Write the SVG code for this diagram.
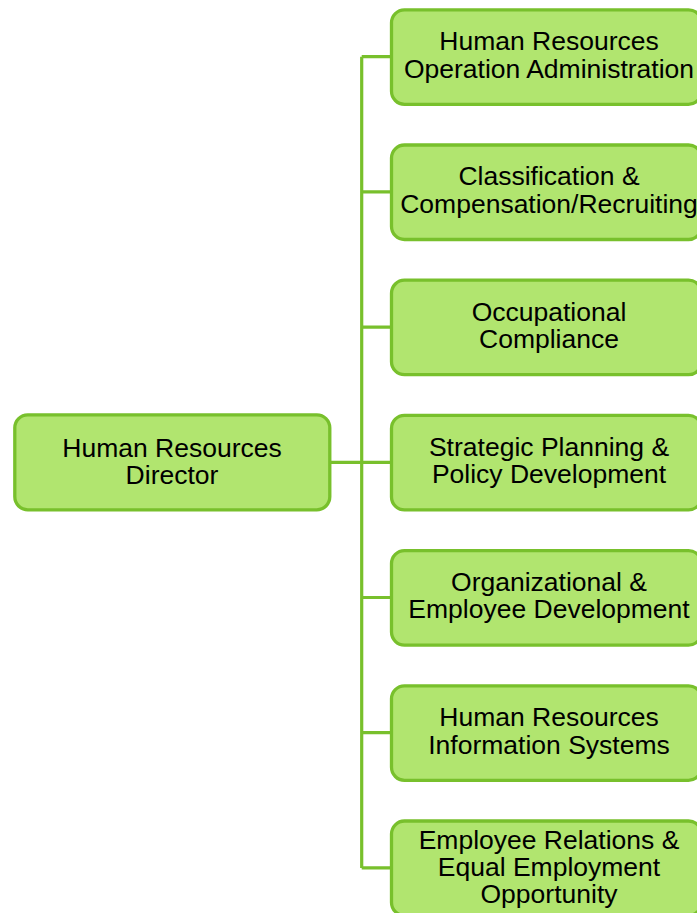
<svg xmlns="http://www.w3.org/2000/svg" width="697" height="913" viewBox="0 0 697 913">
<style>
.box{fill:#b1e56f;stroke:#78c02c;stroke-width:3.3}
.ln{fill:none;stroke:#78c02c;stroke-width:3.2}
text{font-family:"Liberation Sans",Arial,sans-serif;font-size:26.5px;fill:#000;text-anchor:middle}
</style>
<rect width="697" height="913" fill="#fff"/>
<g id="connectors">
<path class="ln" d="M331 462.3H361.7M361.7 56.7V867.9M361.7 56.7H391.5M361.7 191.9H391.5M361.7 327.1H391.5M361.7 462.3H391.5M361.7 597.5H391.5M361.7 732.7H391.5M361.7 867.9H391.5"/>
</g>
<g id="director">
<rect class="box" x="14.8" y="414.8" width="315" height="95" rx="13"/>
<text x="172" y="456.9">Human Resources</text>
<text x="172" y="484.2">Director</text>
</g>
<g id="n1">
<rect class="box" x="391.5" y="9.8" width="310" height="94.5" rx="13"/>
<text x="549" y="50.2">Human Resources</text>
<text x="549" y="77.5">Operation Administration</text>
</g>
<g id="n2">
<rect class="box" x="391.5" y="145" width="310" height="94.5" rx="13"/>
<text x="549" y="185.4">Classification &amp;</text>
<text x="549" y="212.7">Compensation/Recruiting</text>
</g>
<g id="n3">
<rect class="box" x="391.5" y="280.2" width="310" height="94.5" rx="13"/>
<text x="549" y="320.6">Occupational</text>
<text x="549" y="347.9">Compliance</text>
</g>
<g id="n4">
<rect class="box" x="391.5" y="415.4" width="310" height="94.5" rx="13"/>
<text x="549" y="455.8">Strategic Planning &amp;</text>
<text x="549" y="483.1">Policy Development</text>
</g>
<g id="n5">
<rect class="box" x="391.5" y="550.6" width="310" height="94.5" rx="13"/>
<text x="549" y="591">Organizational &amp;</text>
<text x="549" y="618.3">Employee Development</text>
</g>
<g id="n6">
<rect class="box" x="391.5" y="685.8" width="310" height="94.5" rx="13"/>
<text x="549" y="726.2">Human Resources</text>
<text x="549" y="753.5">Information Systems</text>
</g>
<g id="n7">
<rect class="box" x="391.5" y="821" width="310" height="94.5" rx="13"/>
<text x="549" y="849.2">Employee Relations &amp;</text>
<text x="549" y="876.2">Equal Employment</text>
<text x="549" y="902.9">Opportunity</text>
</g>
</svg>
